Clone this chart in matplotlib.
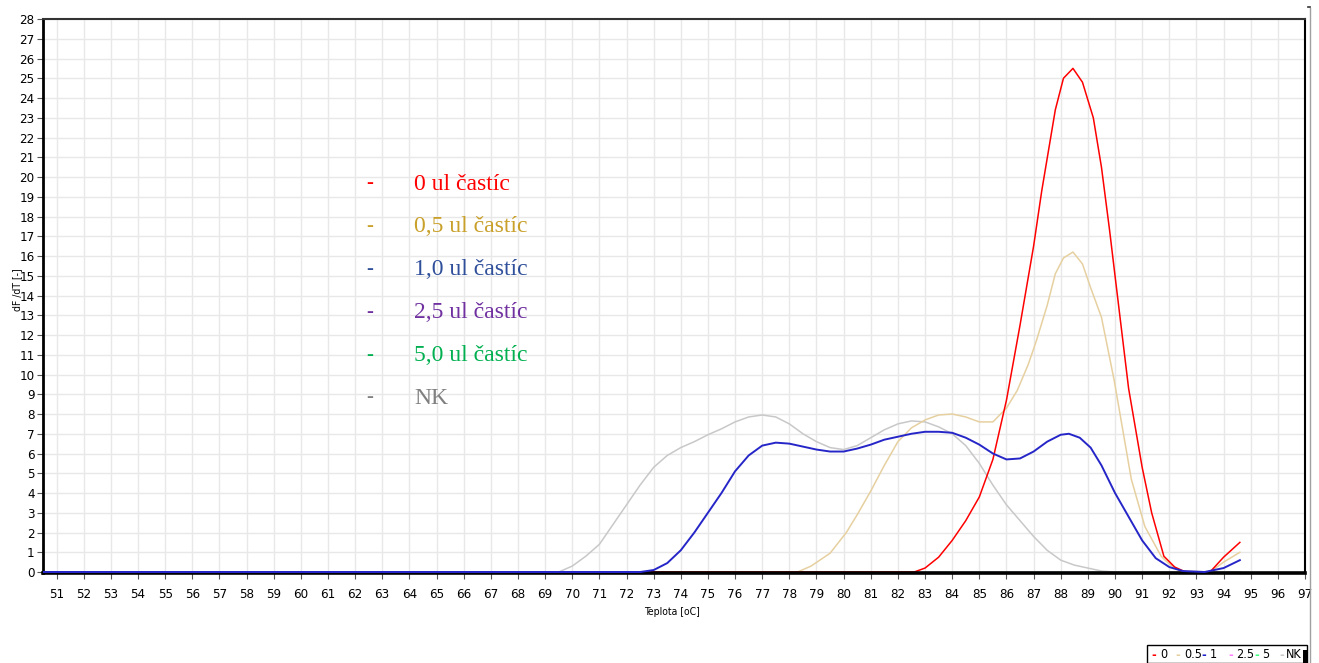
import matplotlib
matplotlib.use("Agg")
import matplotlib.pyplot as plt
from matplotlib.lines import Line2D
from matplotlib.patches import Rectangle

# ---- melting-curve derivative data (dF/dT vs temperature) ----
t_0 = [50.5, 82.6, 83.0, 83.5, 84.0, 84.5, 85.0, 85.5, 86.0, 86.5, 87.0, 87.3,
       87.8, 88.1, 88.45, 88.8, 89.2, 89.5, 89.8, 90.0, 90.5, 91.0, 91.35, 91.8,
       92.2, 92.6, 93.5, 94.0, 94.6]
v_0 = [0, 0, 0.2, 0.75, 1.6, 2.6, 3.8, 5.7, 8.7, 12.5, 16.5, 19.3,
       23.4, 25.0, 25.5, 24.8, 23.0, 20.5, 17.3, 15.0, 9.3, 5.3, 3.0, 0.8,
       0.25, 0, 0, 0.75, 1.5]

t_05 = [50.5, 78.3, 78.8, 79.5, 80.1, 80.5, 81.0, 81.5, 82.0, 82.5, 83.0, 83.5,
        84.0, 84.5, 85.0, 85.5, 86.0, 86.4, 86.8, 87.1, 87.5, 87.8, 88.1, 88.45,
        88.8, 89.1, 89.5, 89.97, 90.6, 91.1, 91.7, 92.0, 92.4, 93.5, 94.0, 94.6]
v_05 = [0, 0, 0.3, 0.95, 2.0, 2.9, 4.1, 5.4, 6.6, 7.3, 7.7, 7.95,
        8.0, 7.85, 7.6, 7.6, 8.3, 9.2, 10.5, 11.7, 13.5, 15.1, 15.9, 16.2,
        15.6, 14.4, 12.9, 9.7, 4.7, 2.3, 0.8, 0.4, 0.05, 0, 0.5, 1.0]

t_1 = [50.5, 72.5, 73.0, 73.5, 74.0, 74.5, 75.0, 75.5, 76.0, 76.5, 77.0, 77.5,
       78.0, 78.5, 79.0, 79.5, 80.0, 80.5, 81.0, 81.5, 82.0, 82.5, 83.0, 83.5,
       84.0, 84.5, 85.0, 85.5, 86.0, 86.5, 87.0, 87.5, 88.0, 88.3, 88.7, 89.1,
       89.5, 90.0, 90.5, 91.0, 91.5, 92.0, 92.5, 93.3, 94.0, 94.6]
v_1 = [0, 0, 0.1, 0.45, 1.1, 2.0, 3.0, 4.0, 5.1, 5.9, 6.4, 6.55,
       6.5, 6.35, 6.2, 6.1, 6.1, 6.25, 6.45, 6.7, 6.85, 7.0, 7.1, 7.1,
       7.05, 6.8, 6.45, 6.0, 5.7, 5.75, 6.1, 6.6, 6.95, 7.0, 6.8, 6.3,
       5.4, 4.0, 2.8, 1.6, 0.7, 0.25, 0.05, 0, 0.2, 0.6]

t_25 = [50.5, 94.6]
v_25 = [0, 0]

t_5 = [50.5, 94.6]
v_5 = [0, 0]

t_nk = [50.5, 69.5, 70.0, 70.5, 71.0, 71.5, 72.0, 72.5, 73.0, 73.5, 74.0, 74.5,
        75.0, 75.5, 76.0, 76.5, 77.0, 77.5, 78.0, 78.5, 79.0, 79.5, 80.0, 80.5,
        81.0, 81.5, 82.0, 82.5, 83.0, 83.5, 84.0, 84.5, 85.0, 85.5, 86.0, 86.5,
        87.0, 87.5, 88.0, 88.5, 89.0, 89.5, 90.0, 94.6]
v_nk = [0, 0, 0.3, 0.8, 1.4, 2.4, 3.4, 4.4, 5.3, 5.9, 6.3, 6.6,
        6.95, 7.25, 7.6, 7.85, 7.95, 7.85, 7.5, 7.0, 6.6, 6.3, 6.2, 6.4,
        6.8, 7.2, 7.5, 7.65, 7.6, 7.35, 7.0, 6.4, 5.5, 4.4, 3.4, 2.6,
        1.8, 1.1, 0.6, 0.35, 0.2, 0.05, 0, 0]

x_ticks = list(range(51, 98))
y_ticks = list(range(0, 29))

legend_labels = ["0 ul častíc", "0,5 ul častíc", "1,0 ul častíc",
                 "2,5 ul častíc", "5,0 ul častíc", "NK"]
legend_colors = ["#FF0000", "#C9A02A", "#2F4F9A", "#7030A0", "#00B050", "#808080"]

small_labels = ["0", "0.5", "1", "2.5", "5", "NK"]
small_colors = ["#FF0000", "#E6D0A0", "#2020C8", "#FF80FF", "#40FF80", "#C8C8C8"]

cond = dict(family="DejaVu Sans", stretch="condensed")

fig = plt.figure(figsize=(13.19, 6.63), dpi=100)
ax = fig.add_axes([43 / 1319, 1 - 573 / 663, (1305 - 43) / 1319, (573 - 19) / 663])

ax.plot(t_25, v_25, color="#FF80FF", lw=1.0, zorder=2)
ax.plot(t_5, v_5, color="#40FF80", lw=1.0, zorder=2)
ax.plot(t_nk, v_nk, color="#C8C8C8", lw=1.1, zorder=3)
ax.plot(t_05, v_05, color="#E6D0A0", lw=1.1, zorder=4)
ax.plot(t_0, v_0, color="#FF0000", lw=1.1, zorder=5)
ax.plot(t_1, v_1, color="#2626C8", lw=1.4, zorder=7)
# the flat baseline of the blue series is drawn heavier
ax.plot([t_1[0], t_1[1]], [v_1[0], v_1[1]], color="#2626C8", lw=1.8, zorder=7)

ax.set_xlim(50.5, 97)
ax.set_ylim(-0.05, 28)
ax.set_xticks(x_ticks)
ax.set_yticks(y_ticks)
ax.grid(True, color="#E8E8E8", lw=1.0, zorder=0)
ax.set_axisbelow(True)
ax.tick_params(axis="both", direction="out", length=4, width=0.8,
               color="#555555", labelsize=9.5, pad=2)
for lab in ax.get_xticklabels() + ax.get_yticklabels():
    lab.set_family("DejaVu Sans")
    lab.set_stretch("condensed")
ax.tick_params(axis="x", pad=7)

ax.spines["left"].set_linewidth(2.0)
ax.spines["bottom"].set_linewidth(2.6)
ax.spines["top"].set_linewidth(1.5)
ax.spines["top"].set_color("#333333")
ax.spines["right"].set_linewidth(1.5)
for s in ax.spines.values():
    s.set_zorder(6)

fig.text(672 / 1319, 1 - 612 / 663, "Teplota [oC]", fontsize=7.5,
         ha="center", va="center", **cond)
fig.text(17 / 1319, 1 - 290 / 663, "dF /dT [-]", fontsize=7.5,
         ha="center", va="center", rotation=90, **cond)

# annotation legend inside the plot
y0 = 184
for i, (lab, col) in enumerate(zip(legend_labels, legend_colors)):
    yy = 1 - (y0 + i * 42.8) / 663
    fig.text(370 / 1319, yy, "-", color=col, family="Liberation Serif",
             fontsize=15, ha="center", va="center")
    fig.text(414 / 1319, yy, lab, color=col, family="Liberation Serif",
             fontsize=17, ha="left", va="center")

# compact legend box at the bottom right
fig.add_artist(Rectangle((1147 / 1319, 0), (1307 - 1147) / 1319, 18 / 663,
                         transform=fig.transFigure, facecolor="white",
                         edgecolor="black", lw=1.0))
fig.add_artist(Rectangle((1303 / 1319, 0), 5 / 1319, 13 / 663,
                         transform=fig.transFigure, facecolor="black",
                         edgecolor="none"))
dash_x = [1154, 1178, 1204, 1231, 1257, 1282]
text_x = [1160, 1184, 1210, 1236, 1262, 1286]
for xd, xt, lab, col in zip(dash_x, text_x, small_labels, small_colors):
    fig.text(xd / 1319, 1 - 655 / 663, "-", color=col, fontsize=9,
             ha="center", va="center", fontweight="bold", **cond)
    fig.text(xt / 1319, 1 - 655 / 663, lab, color="black", fontsize=9,
             ha="left", va="center", **cond)

# window edge on the right
fig.add_artist(Line2D([1310 / 1319, 1310 / 1319], [0, 1 - 8 / 663],
                      transform=fig.transFigure, color="#A0A0A0", lw=1.0))
fig.add_artist(Line2D([1308 / 1319, 1310 / 1319], [1 - 7 / 663, 1 - 7 / 663],
                      transform=fig.transFigure, color="#333333", lw=1.2))

fig.savefig("out.png", dpi=100)
